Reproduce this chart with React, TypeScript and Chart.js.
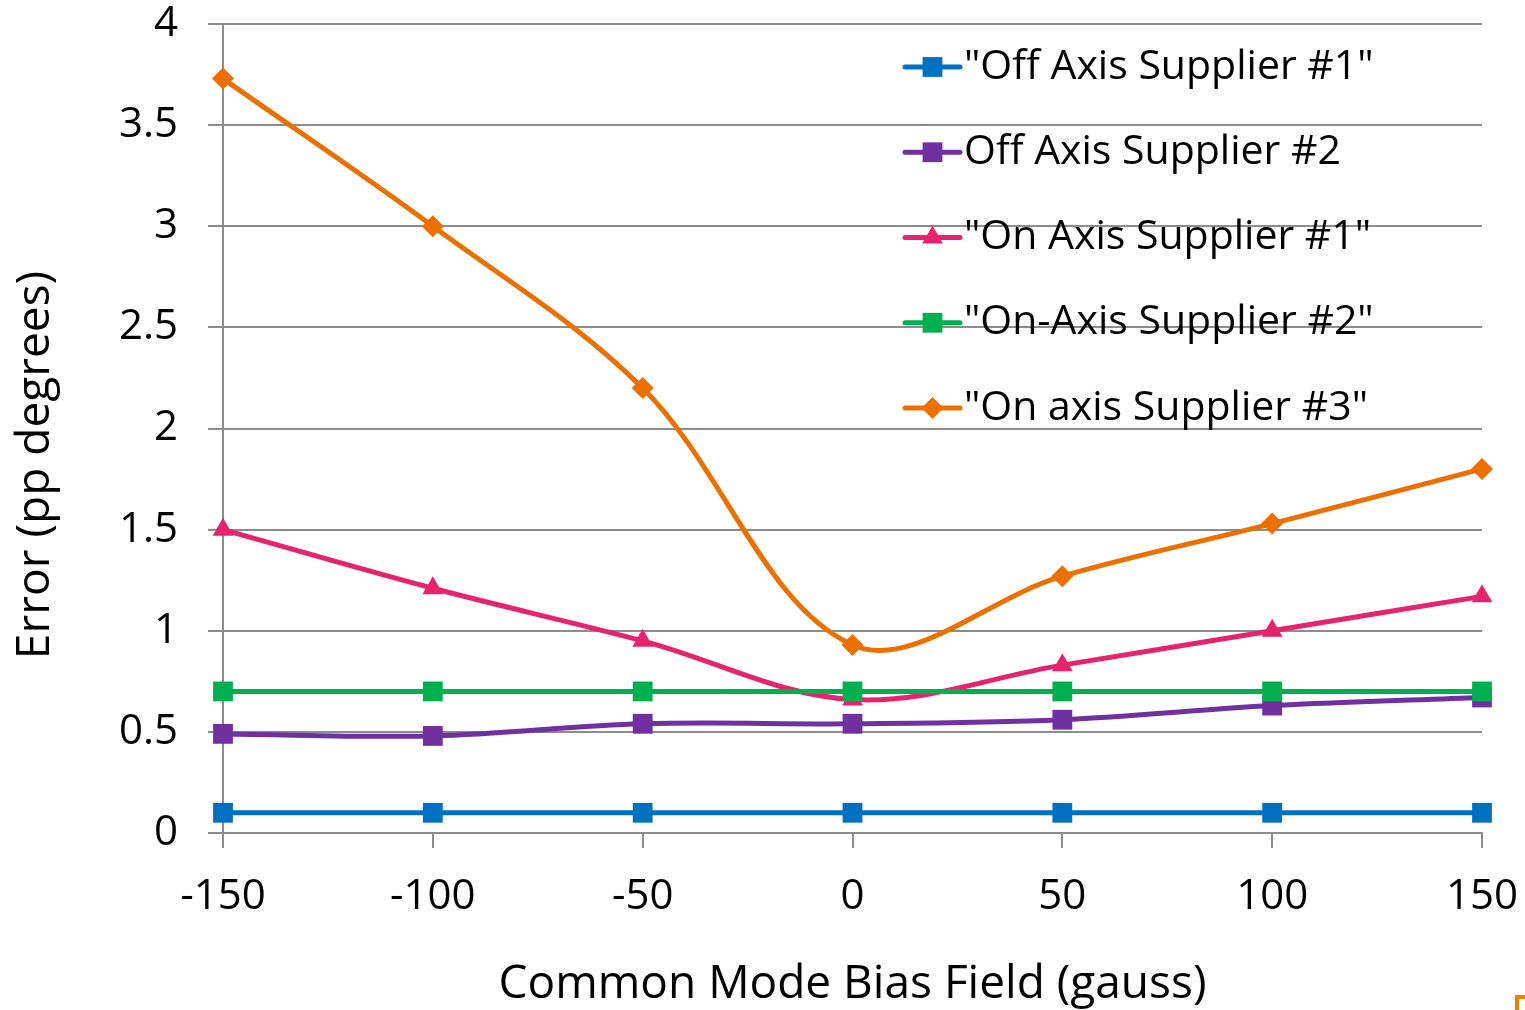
import React, { useEffect, useRef } from 'react';
import { Chart, registerables } from 'chart.js';

Chart.register(...registerables);

// ---- data ----
const biasField = [-150, -100, -50, 0, 50, 100, 150];
const seriesNames = [
  '"Off Axis Supplier #1"',
  'Off Axis Supplier #2',
  '"On Axis Supplier #1"',
  '"On-Axis Supplier #2"',
  '"On axis Supplier #3"',
];
const offAxisSupplier1 = [0.1, 0.1, 0.1, 0.1, 0.1, 0.1, 0.1];
const offAxisSupplier2 = [0.49, 0.48, 0.54, 0.54, 0.56, 0.63, 0.67];
const onAxisSupplier1 = [1.5, 1.21, 0.95, 0.66, 0.83, 1.0, 1.17];
const onAxisSupplier2 = [0.7, 0.7, 0.7, 0.7, 0.7, 0.7, 0.7];
const onAxisSupplier3 = [3.73, 3.0, 2.2, 0.93, 1.27, 1.53, 1.8];
const xTitle = 'Common Mode Bias Field (gauss)';
const yTitle = 'Error (pp degrees)';

// ---- styles ----
const colors = ['#0070C0', '#7030A0', '#E6246E', '#00B050', '#EC7000'];
const markers = ['rect', 'rect', 'triangle', 'rect', 'rectRot'];
const markerRadius = [14, 14, 12, 14, 11];
const FONT = '"Open Sans", "DejaVu Sans", sans-serif';
const GRID = '#8c8c8c';

function drawMarker(ctx: CanvasRenderingContext2D, style: string, x: number, y: number, r: number) {
  ctx.beginPath();
  if (style === 'rect') {
    const s = Math.SQRT1_2 * r;
    ctx.rect(x - s, y - s, 2 * s, 2 * s);
  } else if (style === 'triangle') {
    let rad = 0;
    ctx.moveTo(x + Math.sin(rad) * r, y - Math.cos(rad) * r);
    rad += (2 * Math.PI) / 3;
    ctx.lineTo(x + Math.sin(rad) * r, y - Math.cos(rad) * r);
    rad += (2 * Math.PI) / 3;
    ctx.lineTo(x + Math.sin(rad) * r, y - Math.cos(rad) * r);
    ctx.closePath();
  } else {
    ctx.moveTo(x - r, y);
    ctx.lineTo(x, y - r);
    ctx.lineTo(x + r, y);
    ctx.lineTo(x, y + r);
    ctx.closePath();
  }
  ctx.fill();
}

const legendPlugin = {
  id: 'insideLegend',
  afterDraw(chart: any) {
    const ctx: CanvasRenderingContext2D = chart.ctx;
    const lineX0 = 905;
    const lineX1 = 960;
    const textX = 964;
    const y0 = 67;
    const step = 85.25;
    ctx.save();
    chart.data.datasets.forEach((ds: any, i: number) => {
      const y = y0 + step * i;
      ctx.strokeStyle = ds.borderColor;
      ctx.fillStyle = ds.borderColor;
      ctx.lineWidth = ds.borderWidth;
      ctx.lineCap = 'round';
      ctx.beginPath();
      ctx.moveTo(lineX0, y);
      ctx.lineTo(lineX1, y);
      ctx.stroke();
      drawMarker(ctx, ds.pointStyle, (lineX0 + lineX1) / 2, y, ds.pointRadius);
      ctx.fillStyle = '#000';
      ctx.font = `41px ${FONT}`;
      ctx.textBaseline = 'middle';
      ctx.textAlign = 'left';
      ctx.fillText(ds.label, textX, y);
    });
    // small orange corner mark present in the original image
    ctx.fillStyle = '#F08000';
    ctx.fillRect(1515, 995, 10, 4);
    ctx.fillRect(1515, 995, 4, 15);
    // y axis title
    ctx.translate(36, 465);
    ctx.rotate(-Math.PI / 2);
    ctx.font = `46px ${FONT}`;
    ctx.textAlign = 'center';
    ctx.textBaseline = 'middle';
    ctx.fillStyle = '#000';
    ctx.fillText(yTitle, 0, 0);
    ctx.restore();
  },
};

export default function App() {
  const ref = useRef<HTMLCanvasElement | null>(null);

  useEffect(() => {
    document.body.style.margin = '0';
    const canvas = ref.current;
    if (!canvas) return;
    const seriesValues = [offAxisSupplier1, offAxisSupplier2, onAxisSupplier1, onAxisSupplier2, onAxisSupplier3];
    const datasets = seriesValues.map((vals, i) => ({
      label: seriesNames[i],
      data: biasField.map((x, j) => ({ x, y: vals[j] })),
      borderColor: colors[i],
      backgroundColor: colors[i],
      borderWidth: 5,
      pointStyle: markers[i],
      pointRadius: markerRadius[i],
      pointBorderWidth: 0,
      pointHoverRadius: markerRadius[i],
      tension: 0.35,
      clip: false as any,
      order: 5 - i,
    }));
    const chart = new Chart(canvas, {
      type: 'line',
      data: { datasets },
      options: {
        responsive: false,
        animation: false,
        layout: { padding: { left: 0, right: 43, top: 24, bottom: 0 } },
        plugins: {
          legend: { display: false },
          tooltip: { enabled: false },
        },
        scales: {
          x: {
            type: 'linear',
            min: -150,
            max: 150,
            ticks: {
              stepSize: 50,
              color: '#000',
              font: { family: FONT, size: 42 },
              padding: 24,
            },
            grid: {
              drawOnChartArea: false,
              drawTicks: true,
              tickLength: 15,
              color: GRID,
              lineWidth: 2,
            },
            border: { display: true, color: GRID, width: 2 },
            title: {
              display: true,
              text: xTitle,
              color: '#000',
              font: { family: FONT, size: 46, lineHeight: 1.1 },
              padding: { top: 0, bottom: 0 },
            },
            afterFit: (scale: any) => {
              scale.height = 177;
              scale.paddingLeft = 0;
              scale.paddingRight = 0;
            },
          },
          y: {
            type: 'linear',
            min: 0,
            max: 4,
            ticks: {
              stepSize: 0.5,
              color: '#000',
              font: { family: FONT, size: 42 },
              padding: 30,
              callback: (v: any) => String(Number(v)),
            },
            grid: {
              drawTicks: true,
              tickLength: 15,
              color: GRID,
              lineWidth: 2,
            },
            border: { display: true, color: GRID, width: 2 },
            afterFit: (scale: any) => {
              scale.width = 223;
              scale.paddingTop = 0;
              scale.paddingBottom = 0;
            },
          },
        },
      },
      plugins: [legendPlugin],
    });
    return () => chart.destroy();
  }, []);

  return <canvas ref={ref} width={1525} height={1010} style={{ display: 'block' }} />;
}
